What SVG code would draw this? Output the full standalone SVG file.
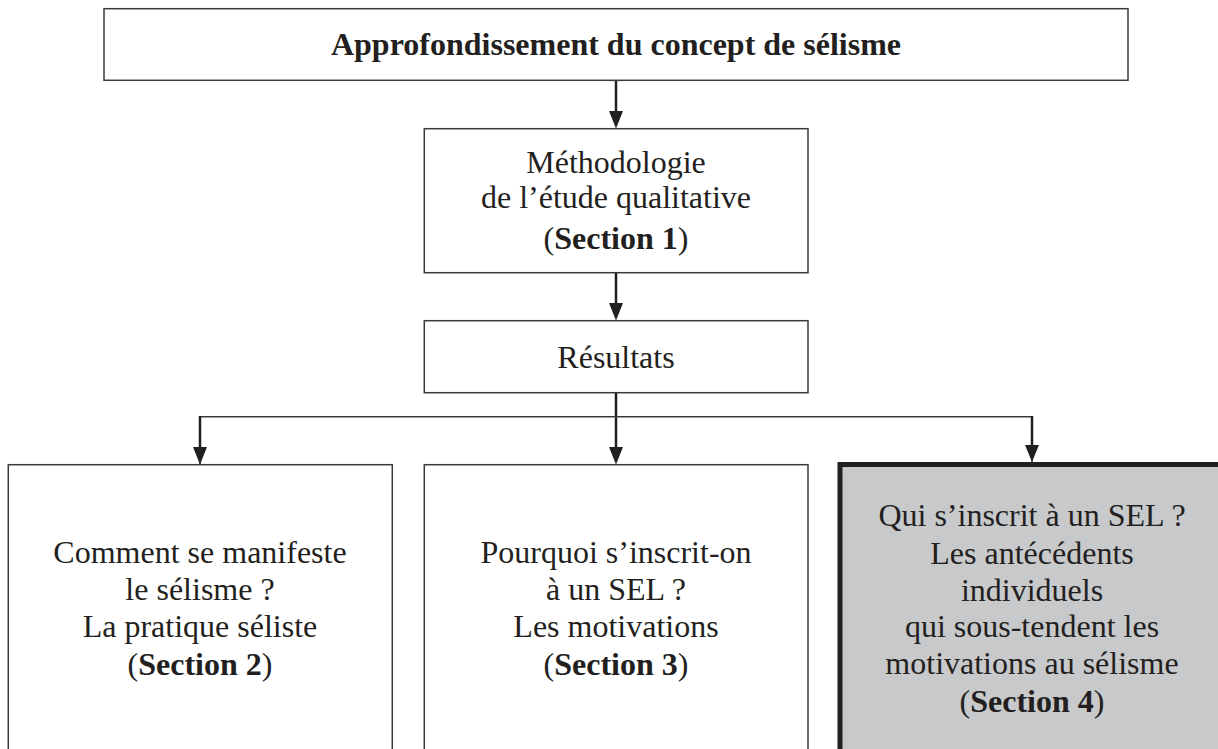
<svg xmlns="http://www.w3.org/2000/svg" width="1218" height="749" viewBox="0 0 1218 749">
  <defs>
    <style>
      .box { fill: #ffffff; stroke: #3a3a3a; stroke-width: 1.5; }
      .hl { fill: #c8c9cb; stroke: #231f20; stroke-width: 5; }
      text { font-family: "Liberation Serif", "Times New Roman", serif; font-size: 32px; fill: #231f20; text-anchor: middle; }
      .b { font-weight: bold; }
      .shaft { stroke: #231f20; stroke-width: 2.5; fill: none; }
      .thin { stroke: #3a3a3a; stroke-width: 1.5; fill: none; }
    </style>
    <marker id="arr" markerUnits="userSpaceOnUse" markerWidth="16" markerHeight="18" viewBox="0 0 16 18" refX="8" refY="18" orient="auto-start-reverse">
      <path d="M1,0 L15,0 L8,18 Z" fill="#231f20" transform="rotate(0)"/>
    </marker>
  </defs>
  <rect width="1218" height="749" fill="#ffffff"/>

  <g id="connectors">
    <line class="shaft" x1="616" y1="81" x2="616" y2="112"/>
    <path d="M609,111 L623,111 L616,128.5 Z" fill="#231f20"/>
    <line class="shaft" x1="616" y1="273" x2="616" y2="304"/>
    <path d="M609,303 L623,303 L616,320.5 Z" fill="#231f20"/>
    <line class="shaft" x1="616" y1="393" x2="616" y2="448"/>
    <path d="M609,447 L623,447 L616,464.5 Z" fill="#231f20"/>
    <polyline class="thin" points="200,464 200,416.7 1032,416.7 1032,462"/>
    <line class="shaft" x1="200" y1="416" x2="200" y2="448"/>
    <path d="M193,447 L207,447 L200,464.5 Z" fill="#231f20"/>
    <line class="shaft" x1="1032" y1="416" x2="1032" y2="446"/>
    <path d="M1025,445 L1039,445 L1032,462 Z" fill="#231f20"/>
  </g>

  <g id="node-title">
    <rect class="box" x="104" y="8.7" width="1024" height="71.6"/>
    <text class="b" x="616" y="55">Approfondissement du concept de sélisme</text>
  </g>

  <g id="node-methodologie">
    <rect class="box" x="424.3" y="128.7" width="383.7" height="144"/>
    <text x="616" y="173">Méthodologie</text>
    <text x="616" y="208">de l’étude qualitative</text>
    <text x="616" y="249">(<tspan class="b">Section 1</tspan>)</text>
  </g>

  <g id="node-resultats">
    <rect class="box" x="424.3" y="320.7" width="383.7" height="72"/>
    <text x="616" y="368">Résultats</text>
  </g>

  <g id="node-section2">
    <rect class="box" x="8.3" y="464.7" width="384" height="300"/>
    <text x="200" y="563">Comment se manifeste</text>
    <text x="200" y="600">le sélisme ?</text>
    <text x="200" y="637">La pratique séliste</text>
    <text x="200" y="675">(<tspan class="b">Section 2</tspan>)</text>
  </g>

  <g id="node-section3">
    <rect class="box" x="424.3" y="464.7" width="383.7" height="300"/>
    <text x="616" y="563">Pourquoi s’inscrit-on</text>
    <text x="616" y="600">à un SEL ?</text>
    <text x="616" y="637">Les motivations</text>
    <text x="616" y="675">(<tspan class="b">Section 3</tspan>)</text>
  </g>

  <g id="node-section4">
    <rect class="hl" x="840" y="464.5" width="384" height="300"/>
    <text x="1032" y="526">Qui s’inscrit à un SEL ?</text>
    <text x="1032" y="564">Les antécédents</text>
    <text x="1032" y="601">individuels</text>
    <text x="1032" y="637">qui sous-tendent les</text>
    <text x="1032" y="674">motivations au sélisme</text>
    <text x="1032" y="712">(<tspan class="b">Section 4</tspan>)</text>
  </g>
</svg>
